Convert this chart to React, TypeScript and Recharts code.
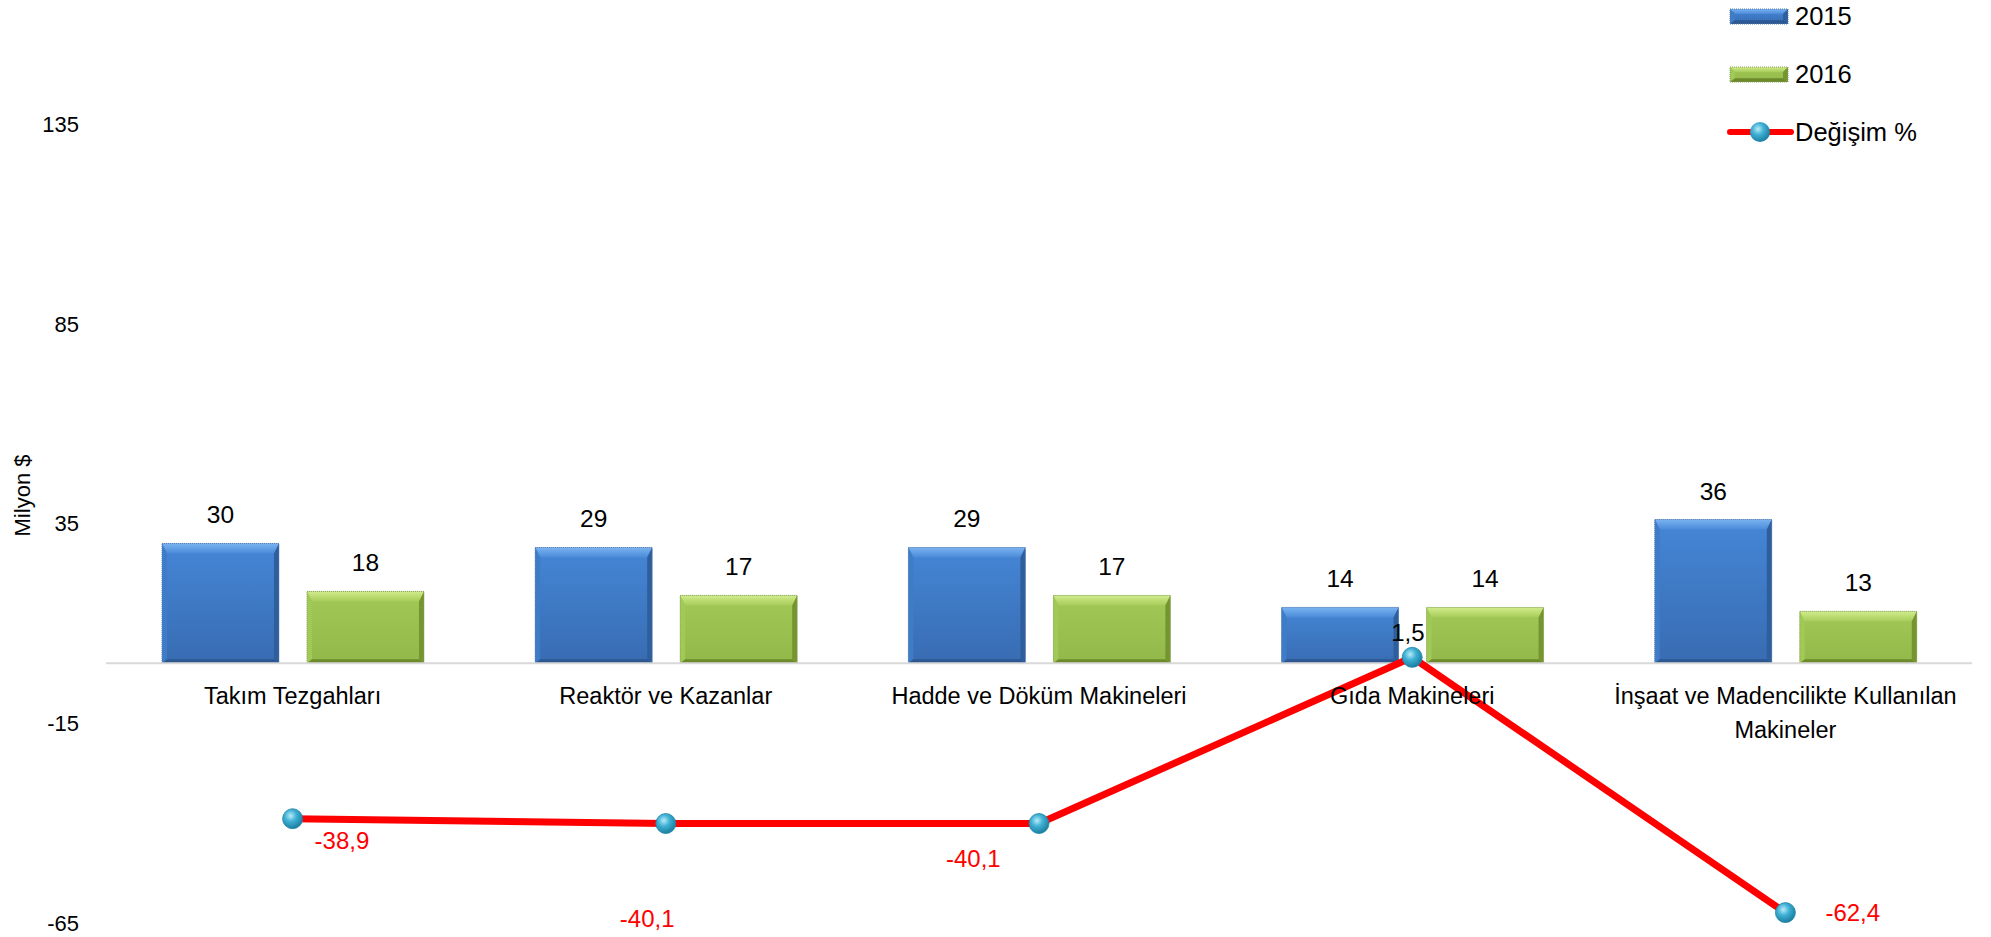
import React from 'react';
import {
  ComposedChart,
  Bar,
  Line,
  XAxis,
  YAxis,
  ReferenceLine,
  LabelList,
  Legend,
  Label,
} from 'recharts';

const categories = [
  'Takım Tezgahları',
  'Reaktör ve Kazanlar',
  'Hadde ve Döküm Makineleri',
  'Gıda Makineleri',
  'İnşaat ve Madencilikte Kullanılan Makineler',
];
const values2015 = [30, 29, 29, 14, 36];
const values2016 = [18, 17, 17, 14, 13];
const changePct = [-38.9, -40.1, -40.1, 1.5, -62.4];
const yTicks = [-65, -15, 35, 85, 135];

// label placement tweaks for the % labels (dx, dy relative to the point)
const changeLabelOffsets: [number, number][] = [
  [22, 30],
  [-46, 103],
  [-93, 43],
  [-21, -16],
  [40, 8],
];

const data = categories.map((name, i) => ({
  name,
  y2015: values2015[i],
  y2016: values2016[i],
  change: changePct[i],
  base: 0,
}));

const FONT = '"Liberation Sans", Arial, sans-serif';

const fmt = (v: number) => (Number.isInteger(v) ? String(v) : v.toFixed(1).replace('.', ','));

const Gradients = () => (
  <>
    <radialGradient id="sphereGrad" cx="40%" cy="35%" r="65%">
      <stop offset="0%" stopColor="#b7ecf8" />
      <stop offset="45%" stopColor="#3fb0d4" />
      <stop offset="100%" stopColor="#1b7ea0" />
    </radialGradient>
    <linearGradient id="blueBody" x1="0" y1="0" x2="0" y2="1">
      <stop offset="0%" stopColor="#4586d6" />
      <stop offset="100%" stopColor="#386cb2" />
    </linearGradient>
    <linearGradient id="blueTop" x1="0" y1="0" x2="0" y2="1">
      <stop offset="0%" stopColor="#7ab3f0" />
      <stop offset="100%" stopColor="#4a8ad8" />
    </linearGradient>
    <linearGradient id="greenBody" x1="0" y1="0" x2="0" y2="1">
      <stop offset="0%" stopColor="#a2c956" />
      <stop offset="100%" stopColor="#92b84a" />
    </linearGradient>
    <linearGradient id="greenTop" x1="0" y1="0" x2="0" y2="1">
      <stop offset="0%" stopColor="#d2ec8c" />
      <stop offset="100%" stopColor="#a6cc5a" />
    </linearGradient>
  </>
);

const makeBevelBar = (c: { body: string; top: string; side: string; bottom: string; left: string; edge: string }) => (props: any) => {
  const { x, y, width, height } = props;
  if (!height || height <= 0) return <g />;
  const bt = Math.min(10, height / 3);
  const bs = Math.min(5, width / 6);
  const bb = Math.min(4, height / 4);
  const ix1 = x + bs;
  const ix2 = x + width - bs;
  const iy1 = y + bt;
  const iy2 = y + height - bb;
  const x2 = x + width;
  const y2 = y + height;
  return (
    <g>
      <rect x={x} y={y} width={width} height={height} fill={c.body} />
      <polygon points={`${x},${y} ${x2},${y} ${ix2},${iy1} ${ix1},${iy1}`} fill={c.top} />
      <polygon points={`${x},${y} ${ix1},${iy1} ${ix1},${iy2} ${x},${y2}`} fill={c.left} />
      <polygon points={`${x2},${y} ${x2},${y2} ${ix2},${iy2} ${ix2},${iy1}`} fill={c.side} />
      <polygon points={`${x},${y2} ${ix1},${iy2} ${ix2},${iy2} ${x2},${y2}`} fill={c.bottom} />
      <rect x={x} y={y} width={width} height={height} fill="none" stroke={c.edge} strokeWidth={1} strokeDasharray="1 1" />
    </g>
  );
};

const BlueBar = makeBevelBar({
  body: 'url(#blueBody)',
  top: 'url(#blueTop)',
  side: '#2f5e9c',
  bottom: '#2c5790',
  left: '#3f7cc8',
  edge: '#5b7fae',
});
const GreenBar = makeBevelBar({
  body: 'url(#greenBody)',
  top: 'url(#greenTop)',
  side: '#759530',
  bottom: '#6c8a2b',
  left: '#a0c955',
  edge: '#8aa160',
});

const SphereDot = (props: any) => {
  const { cx, cy } = props;
  if (cx == null || cy == null) return <g />;
  return <circle cx={cx} cy={cy} r={10} fill="url(#sphereGrad)" stroke="#1f86a8" strokeWidth={0.8} />;
};

const wrapWords = (s: string, max: number) => {
  const words = s.split(' ');
  const lines: string[] = [];
  let cur = '';
  words.forEach((w) => {
    const next = cur ? cur + ' ' + w : w;
    if (next.length > max && cur) {
      lines.push(cur);
      cur = w;
    } else cur = next;
  });
  if (cur) lines.push(cur);
  return lines;
};

const CategoryLabel = (props: any) => {
  const { x, y, value } = props;
  const lines = wrapWords(String(value), 34);
  return (
    <text x={x} y={y + 41} textAnchor="middle" fontSize={23.5} fill="#000" fontFamily={FONT}>
      {lines.map((l, i) => (
        <tspan key={i} x={x} dy={i === 0 ? 0 : 34}>
          {l}
        </tspan>
      ))}
    </text>
  );
};

const ChangeLabel = (props: any) => {
  const { x, y, value, index } = props;
  const [dx, dy] = changeLabelOffsets[index] || [0, 0];
  return (
    <text x={x + dx} y={y + dy} textAnchor="start" fontSize={24} fill={value > 0 ? '#000' : '#ff0000'} fontFamily={FONT}>
      {fmt(value)}
    </text>
  );
};

const LegendContent = () => {
  const items = [
    { label: '2015', type: 'blue' },
    { label: '2016', type: 'green' },
    { label: 'Değişim %', type: 'line' },
  ];
  return (
    <svg width={260} height={150} style={{ overflow: 'visible' }}>
      <defs>
        <Gradients />
      </defs>
      {items.map((it, i) => {
        const cy = 16 + i * 58;
        return (
          <g key={it.label}>
            {it.type === 'blue' && <BlueBar x={5} y={cy - 7} width={58} height={15} />}
            {it.type === 'green' && <GreenBar x={5} y={cy - 7} width={58} height={15} />}
            {it.type === 'line' && (
              <g>
                <line x1={5} y1={cy} x2={66} y2={cy} stroke="#ff0000" strokeWidth={6} strokeLinecap="round" />
                <circle cx={35} cy={cy} r={10} fill="url(#sphereGrad)" />
              </g>
            )}
            <text x={70} y={cy + 9} fontSize={25.5} fill="#000" fontFamily={FONT}>
              {it.label}
            </text>
          </g>
        );
      })}
    </svg>
  );
};

export default function App() {
  return (
    <div style={{ position: 'absolute', left: 0, top: 0, width: 1991, height: 937, background: '#fff', fontFamily: FONT }}>
      <ComposedChart
        width={1991}
        height={937}
        data={data}
        margin={{ top: 124, right: 19, bottom: 14, left: 0 }}
        barCategoryGap="15%"
        barGap={28}
      >
        <defs>
          <Gradients />
        </defs>
        <XAxis dataKey="name" hide />
        <YAxis
          domain={[-65, 135]}
          ticks={yTicks}
          width={106}
          axisLine={false}
          tickLine={false}
          tickMargin={21}
          tick={{ fontSize: 22, fill: '#000', fontFamily: FONT }}
          allowDataOverflow
        >
          <Label
            content={(p: any) => {
              const vb = p.viewBox || {};
              const cy = (vb.y || 0) + (vb.height || 0) / 2 - 28;
              return (
                <text
                  x={22}
                  y={cy}
                  transform={`rotate(-90, 22, ${cy})`}
                  textAnchor="middle"
                  dominantBaseline="central"
                  fontSize={22}
                  fill="#000"
                  fontFamily={FONT}
                >
                  Milyon $
                </text>
              );
            }}
          />
        </YAxis>
        <ReferenceLine y={0} stroke="#d9d9d9" strokeWidth={2} />
        <Legend
          layout="vertical"
          align="center"
          verticalAlign="middle"
          wrapperStyle={{ position: 'absolute', top: 0, left: 1725, width: 260, height: 150 }}
          content={() => <LegendContent />}
        />
        <Bar dataKey="y2015" name="2015" shape={BlueBar} isAnimationActive={false}>
          <LabelList dataKey="y2015" position="top" offset={20} fontSize={24.5} fill="#000" fontFamily={FONT} />
        </Bar>
        <Bar dataKey="y2016" name="2016" shape={GreenBar} isAnimationActive={false}>
          <LabelList dataKey="y2016" position="top" offset={20} fontSize={24.5} fill="#000" fontFamily={FONT} />
        </Bar>
        <Line
          dataKey="base"
          stroke="none"
          dot={false}
          activeDot={false}
          legendType="none"
          isAnimationActive={false}
        >
          <LabelList dataKey="name" content={CategoryLabel} />
        </Line>
        <Line
          dataKey="change"
          name="Değişim %"
          stroke="#ff0000"
          strokeWidth={7}
          dot={SphereDot}
          activeDot={false}
          isAnimationActive={false}
        >
          <LabelList dataKey="change" content={ChangeLabel} />
        </Line>
      </ComposedChart>
    </div>
  );
}
